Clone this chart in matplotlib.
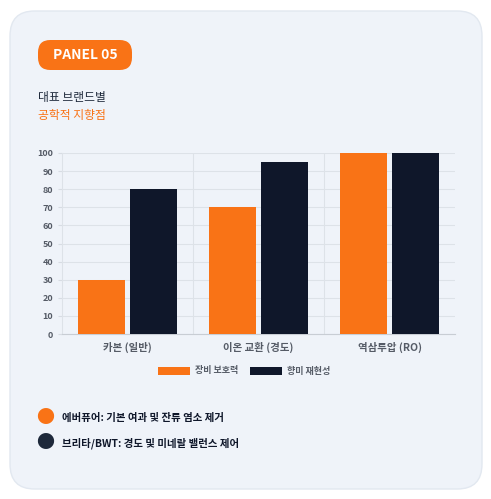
import matplotlib
matplotlib.use("Agg")
import matplotlib.pyplot as plt
from matplotlib.patches import FancyBboxPatch
import numpy as np

plt.rcParams['font.family'] = ['Noto Sans CJK KR', 'DejaVu Sans']

categories = ["카본 (일반)", "이온 교환 (경도)", "역삼투압 (RO)"]
protection = [30, 70, 100]
flavor = [80, 95, 100]
series_names = ["장비 보호력", "향미 재현성"]
yticks = list(range(0, 101, 10))

ORANGE = "#f97316"
DARK = "#0f172a"
BG = "#eff3f9"

fig = plt.figure(figsize=(4.91, 4.99), dpi=100)
fig.patch.set_facecolor("white")
card = FancyBboxPatch((10/491, 10/499), 472/491, 478/499, boxstyle="round,pad=0,rounding_size=0.05",
                      transform=fig.transFigure, facecolor=BG, edgecolor="#e2e8f0", lw=1, zorder=-10)
fig.patches.append(card)

badge = FancyBboxPatch((38/491, 1-70/499), 94/491, 30/499, boxstyle="round,pad=0,rounding_size=0.025",
                       transform=fig.transFigure, facecolor=ORANGE, edgecolor="none")
fig.patches.append(badge)
fig.text(85/491, 1-55/499, "PANEL 05", color="white", fontsize=10, fontweight="bold", ha="center", va="center")
fig.text(38/491, 1-98/499, "대표 브랜드별", color="#1e293b", fontsize=8.5, va="center")
fig.text(38/491, 1-115/499, "공학적 지향점", color=ORANGE, fontsize=8.5, va="center")

ax = fig.add_axes([62/491, 1-334/499, 393/491, 181/499])
ax.set_facecolor(BG)
x = np.arange(len(categories))
ax.bar(x - 0.2, protection, width=0.36, color=ORANGE, zorder=3)
ax.bar(x + 0.2, flavor, width=0.36, color=DARK, zorder=3)
ax.set_xlim(-0.5, 2.5)
ax.set_ylim(0, 100)
ax.set_yticks(yticks)
ax.set_xticks(x)
ax.set_xticklabels(categories, fontsize=7.5, color="#555b66", fontweight="bold")
ax.tick_params(axis='y', labelsize=6.5, colors="#555b66", length=3, color="#d7dce3")
ax.tick_params(axis='x', length=0, pad=6)
for lab in ax.get_yticklabels():
    lab.set_fontweight("bold")
ax.grid(axis='y', color="#dde2e8", lw=0.8, zorder=0)
for b in [0.5, 1.5]:
    ax.axvline(b, color="#dde2e8", lw=0.8, zorder=0)
for s in ["top", "right"]:
    ax.spines[s].set_visible(False)
ax.spines["left"].set_color("#dde2e8")
ax.spines["bottom"].set_color("#c8cdd4")

# legend
fig.patches.append(FancyBboxPatch((158/491, 1-375/499), 32/491, 8/499, boxstyle="square,pad=0",
                                  transform=fig.transFigure, facecolor=ORANGE, edgecolor="none"))
fig.text(195/491, 1-371/499, series_names[0], fontsize=6.5, color="#555b66", fontweight="bold", va="center")
fig.patches.append(FancyBboxPatch((250/491, 1-375/499), 32/491, 8/499, boxstyle="square,pad=0",
                                  transform=fig.transFigure, facecolor=DARK, edgecolor="none"))
fig.text(287/491, 1-371/499, series_names[1], fontsize=6.5, color="#555b66", fontweight="bold", va="center")

fig.text(45/491, 1-418/499, "●", fontsize=13, color=ORANGE, ha="center", va="center")
fig.text(62/491, 1-418/499, "에버퓨어: 기본 여과 및 잔류 염소 제거", fontsize=7.5, fontweight="bold", color="#0f172a", va="center")
fig.text(45/491, 1-443/499, "●", fontsize=13, color="#1e293b", ha="center", va="center")
fig.text(62/491, 1-443/499, "브리타/BWT: 경도 및 미네랄 밸런스 제어", fontsize=7.5, fontweight="bold", color="#0f172a", va="center")

fig.savefig("out.png", dpi=100)
